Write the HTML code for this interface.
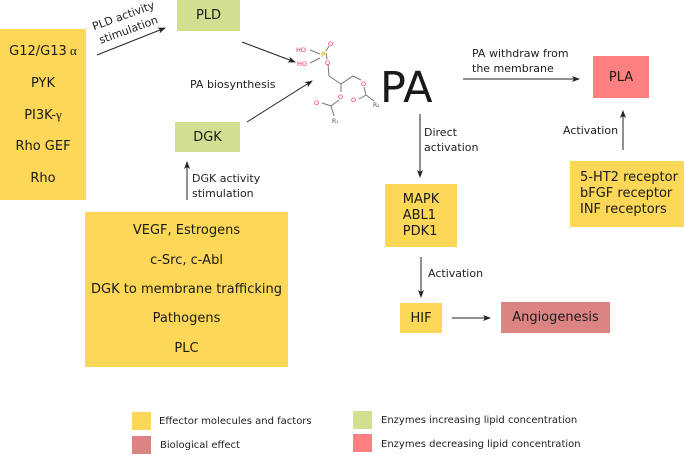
<!DOCTYPE html>
<html><head><meta charset="utf-8"><style>
body{margin:0;width:684px;height:455px;background:#fff;position:relative;overflow:hidden;font-family:"DejaVu Sans","Liberation Sans",sans-serif;color:#1a1a1a}
.b{position:absolute;display:flex;align-items:center;justify-content:center;text-align:center}
.y{background:#fdd757}.g{background:#d0df90}.r{background:#ff8080}.d{background:#dc8484}
.t{position:absolute;font-size:11px;line-height:15px;color:#222}
svg{position:absolute;left:0;top:0}
</style></head><body>
<div class="b y" style="left:0;top:29px;width:86px;height:171px;flex-direction:column;justify-content:space-around;font-size:13px;padding:6px 0;box-sizing:border-box"><div>G12/G13<span style="font-family:'Liberation Serif',serif"> α</span></div><div>PYK</div><div>PI3K-<span style="font-family:'Liberation Serif',serif">γ</span></div><div>Rho GEF</div><div>Rho</div></div>
<div class="b g" style="left:177px;top:0;width:63px;height:31px;font-size:13px">PLD</div>
<div class="b g" style="left:175px;top:122px;width:65px;height:30px;font-size:13px">DGK</div>
<div class="b y" style="left:85px;top:212px;width:203px;height:155px;flex-direction:column;justify-content:space-around;font-size:13px;padding:4px 0;box-sizing:border-box"><div>VEGF, Estrogens</div><div>c-Src, c-Abl</div><div>DGK to membrane trafficking</div><div>Pathogens</div><div>PLC</div></div>
<div class="b r" style="left:593px;top:56px;width:56px;height:42px;font-size:13px">PLA</div>
<div class="b y" style="left:385px;top:184px;width:72px;height:63px;font-size:13px;line-height:16px;text-align:left">MAPK<br>ABL1<br>PDK1</div>
<div class="b y" style="left:400px;top:303px;width:42px;height:30px;font-size:13px">HIF</div>
<div class="b d" style="left:501px;top:302px;width:109px;height:31px;font-size:13px">Angiogenesis</div>
<div class="b y" style="left:570px;top:161px;width:114px;height:66px;font-size:13px;line-height:16px;text-align:left;justify-content:flex-start;padding-left:10px;box-sizing:border-box">5-HT2 receptor<br>bFGF receptor<br>INF receptors</div>
<div style="position:absolute;left:380px;top:64px;font-size:43px;line-height:48px">PA</div>
<div class="t" style="left:88px;top:8px;width:76px;transform:rotate(-20deg);transform-origin:center;text-align:center">PLD activity<br>stimulation</div>
<div class="t" style="left:190px;top:77px">PA biosynthesis</div>
<div class="t" style="left:192px;top:171px">DGK activity<br>stimulation</div>
<div class="t" style="left:472px;top:46px">PA withdraw from<br>the membrane</div>
<div class="t" style="left:424px;top:125px">Direct<br>activation</div>
<div class="t" style="left:428px;top:266px">Activation</div>
<div class="t" style="left:563px;top:123px">Activation</div>
<div style="position:absolute;left:132px;top:412px;width:19px;height:18px" class="y"></div>
<div style="position:absolute;left:132px;top:436px;width:19px;height:18px" class="d"></div>
<div style="position:absolute;left:353px;top:411px;width:19px;height:18px" class="g"></div>
<div style="position:absolute;left:353px;top:434px;width:19px;height:18px" class="r"></div>
<div class="t" style="left:159px;top:414px;font-size:10px">Effector molecules and factors</div>
<div class="t" style="left:160px;top:438px;font-size:10px">Biological effect</div>
<div class="t" style="left:381px;top:413px;font-size:10px">Enzymes increasing lipid concentration</div>
<div class="t" style="left:381px;top:437px;font-size:10px">Enzymes decreasing lipid concentration</div>
<svg width="684" height="455">
<defs><marker id="a" markerWidth="8" markerHeight="6" refX="7" refY="3" orient="auto" markerUnits="userSpaceOnUse"><path d="M0,0L8,3L0,6L2,3z" fill="#222"/></marker></defs>
<g stroke="#222" stroke-width="1" marker-end="url(#a)">
<line x1="97" y1="55" x2="165" y2="28"/>
<line x1="242" y1="42" x2="295" y2="62"/>
<line x1="247" y1="122" x2="312" y2="81"/>
<line x1="187" y1="200" x2="187" y2="162"/>
<line x1="463" y1="79" x2="579" y2="79"/>
<line x1="420" y1="114" x2="420" y2="177"/>
<line x1="421" y1="257" x2="421" y2="297"/>
<line x1="452" y1="318" x2="490" y2="318"/>
<line x1="623" y1="150" x2="623" y2="111"/>
</g>
<g stroke="#777" stroke-width="1" fill="none">
<polyline points="328,64 329,76 341,84 353,76 361,80"/>
<line x1="341" y1="84" x2="341" y2="92"/>
<polyline points="339,100 331,106 334,116"/><line x1="331" y1="106" x2="322" y2="103"/>
<polyline points="364,87 366,95 374,101"/><line x1="366" y1="95" x2="359" y2="99"/>
<line x1="310" y1="50" x2="320" y2="54"/><line x1="310" y1="63" x2="320" y2="58"/>
<line x1="326" y1="53" x2="327" y2="59"/><line x1="326" y1="51" x2="329" y2="46"/>
</g>
<g font-family="DejaVu Sans,sans-serif" font-size="6.5" fill="#f25">
<text x="296" y="52">HO</text><text x="297" y="66">HO</text><text x="328" y="46">O</text><text x="325" y="65">O</text>
<text x="338" y="99">O</text><text x="361" y="86">O</text><text x="314" y="105">O</text><text x="351" y="102">O</text>
</g>
<text x="321" y="57" font-family="DejaVu Sans,sans-serif" font-size="7" fill="#f90">P</text>
<text x="332" y="123" font-size="6" fill="#555" font-family="DejaVu Sans,sans-serif">R₁</text>
<text x="373" y="107" font-size="6" fill="#555" font-family="DejaVu Sans,sans-serif">R₂</text>
</svg>
</body></html>
